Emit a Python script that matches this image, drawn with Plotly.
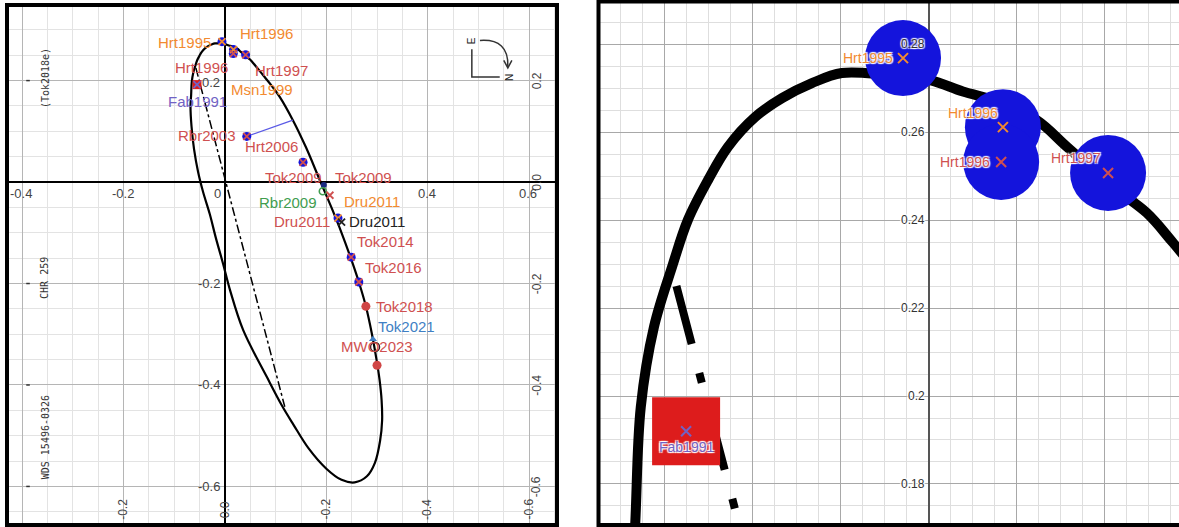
import plotly.graph_objects as go

W, H = 1179, 527

# ---------------- data ----------------
# apparent orbit (relative position, arcsec)
orbit_x = [0.187, 0.21, 0.23, 0.25, 0.265, 0.278, 0.29, 0.299, 0.305, 0.309, 0.31, 0.306,
           0.296, 0.28, 0.256, 0.23, 0.2, 0.165, 0.135, 0.112, 0.083, 0.036, 0.01, -0.004,
           -0.018, -0.03, -0.043, -0.053, -0.061, -0.066, -0.068, -0.0668, -0.0655, -0.0625,
           -0.0584, -0.0548, -0.0502, -0.0457, -0.0395, -0.0334, -0.0266, -0.0198, -0.0100,
           0.0002, 0.0077, 0.0155, 0.0245, 0.0314, 0.0418, 0.0495, 0.0555, 0.075, 0.092,
           0.108, 0.134, 0.16, 0.187]
orbit_y = [0.004, -0.05, -0.10, -0.155, -0.20, -0.245, -0.30, -0.35, -0.39, -0.43, -0.47, -0.51,
           -0.553, -0.58, -0.592, -0.587, -0.565, -0.525, -0.478, -0.44, -0.385, -0.292, -0.213,
           -0.16, -0.11, -0.063, -0.02, 0.02, 0.065, 0.11, 0.15, 0.1702, 0.1975, 0.2157,
           0.2293, 0.2400, 0.2491, 0.2566, 0.2634, 0.2677, 0.2711, 0.2734, 0.2730,
           0.2718, 0.2692, 0.267, 0.2627, 0.2566, 0.2475, 0.2416, 0.2348, 0.211, 0.19,
           0.168, 0.122, 0.068, 0.004]

# line of nodes
nodes_x = [-0.0574, 0.118]
nodes_y = [0.225, -0.443]

# residual of Rbr2003
resid_x = [0.043, 0.134]
resid_y = [0.090, 0.122]

# measurements drawn as blue discs with a cross
disc_names = ["Hrt1995", "Hrt1996", "Hrt1996", "Hrt1997", "Rbr2003", "Hrt2006", "Dru2011", "Tok2014", "Tok2016"]
disc_x = [-0.0059, 0.0168, 0.0164, 0.0407, 0.043, 0.154, 0.223, 0.249, 0.264]
disc_y = [0.2768, 0.2611, 0.2532, 0.2507, 0.090, 0.039, -0.071, -0.148, -0.197]
disc_cross = ["orange", "orange", "red", "red", "red", "red", "orange", "red", "red"]

# further crosses
cross_names = ["Dru2011", "Dru2011", "Fab1991"]
cross_x = [0.230, 0.207, -0.0552]
cross_y = [-0.079, -0.026, 0.192]
cross_col = ["black", "red", "purple"]

# Fab1991 red square
fab_x = [-0.0552]
fab_y = [0.192]

# other single measurements
tok2009_x, tok2009_y = [0.195], [-0.006]
rbr2009_x, rbr2009_y = [0.193], [-0.018]
tok2018_x, tok2018_y = [0.278], [-0.245]
tok2021_x, tok2021_y = [0.292], [-0.310]
mwo2023_x, mwo2023_y = [0.296], [-0.325]
pred_x, pred_y = [0.300], [-0.361]

# labels, left panel
lab_text = ["Hrt1995", "Hrt1996", "Hrt1996", "Hrt1997", "Msn1999", "Fab1991", "Rbr2003", "Hrt2006",
            "Tok2009", "Tok2009", "Rbr2009", "Dru2011", "Dru2011", "Dru2011", "Tok2014", "Tok2016",
            "Tok2018", "Tok2021", "MWO2023"]
lab_x = [-0.080, 0.082, -0.047, 0.111, 0.074, -0.054, -0.036, 0.091,
         0.136, 0.274, 0.124, 0.291, 0.151, 0.300, 0.317, 0.332, 0.354, 0.359, 0.300]
lab_y = [0.276, 0.292, 0.225, 0.219, 0.183, 0.158, 0.091, 0.071,
         0.009, 0.009, -0.041, -0.039, -0.077, -0.077, -0.118, -0.168, -0.245, -0.284, -0.325]
lab_col = ["orange", "orange", "red", "red", "orange", "purple", "red", "red",
           "red", "red", "green", "orange", "red", "black", "red", "red", "red", "blue", "red"]

# labels, right (zoomed) panel
zlab_text = ["Hrt1995", "Hrt1996", "Hrt1996", "Hrt1997", "Fab1991"]
zlab_x = [-0.0139, 0.0100, 0.0082, 0.0334, -0.0552]
zlab_y = [0.2768, 0.2643, 0.2532, 0.2540, 0.1884]
zlab_col = ["orange", "orange", "red", "red", "purple"]

# tick labels
lx_vals = [-0.4, -0.2, 0.0, 0.4, 0.6]
lx_text = ["-0.4", "-0.2", "0", "0.4", "0.6"]
ly_vals = [0.2, -0.2, -0.4, -0.6]
ly_text = ["0.2", "-0.2", "-0.4", "-0.6"]
rcol_vals = [0.2, 0.0, -0.2, -0.4, -0.6]
rcol_text = ["0.2", "0.0", "-0.2", "-0.4", "-0.6"]
brow_vals = [-0.2, 0.0, 0.2, 0.4, 0.6]
brow_text = ["-0.2", "0.0", "-0.2", "-0.4", "-0.6"]
zy_vals = [0.28, 0.26, 0.24, 0.22, 0.20, 0.18]
zy_text = ["0.28", "0.26", "0.24", "0.22", "0.2", "0.18"]

side_text = ["(Tok2018e)", "CHR 259", "WDS 15496-0326"]
side_y = [0.205, -0.189, -0.503]

# ---------------- styles ----------------
COL = {"orange": "#f28a30", "red": "#cf5050", "purple": "#7262c4", "green": "#3f9d4f",
       "blue": "#3f7fc4", "black": "#222222"}
FONT = "Arial, Liberation Sans, sans-serif"
HALO = "1px 1px 1px #fff, -1px -1px 1px #fff, 1px -1px 1px #fff, -1px 1px 1px #fff"

fig = go.Figure()

panels = [
    dict(xa="x", ya="y", orbit_w=2.2, nodes_w=1.5, nodes_dash="dashdot", disc=9, cross=7,
         cross_w=1.8, sq=9, small=7),
    dict(xa="x2", ya="y2", orbit_w=10, nodes_w=8, nodes_dash="60px,30px,10px,30px", disc=76,
         cross=10, cross_w=2, sq=68, small=40),
]

for p in panels:
    xa, ya = p["xa"], p["ya"]
    fig.add_trace(go.Scatter(x=orbit_x, y=orbit_y, mode="lines", line_shape="spline",
                             line=dict(color="black", width=p["orbit_w"]), xaxis=xa, yaxis=ya))
    fig.add_trace(go.Scatter(x=nodes_x, y=nodes_y, mode="lines",
                             line=dict(color="black", width=p["nodes_w"], dash=p["nodes_dash"]),
                             xaxis=xa, yaxis=ya))
    fig.add_trace(go.Scatter(x=resid_x, y=resid_y, mode="lines",
                             line=dict(color="#5a5ae6", width=1.2), xaxis=xa, yaxis=ya))
    fig.add_trace(go.Scatter(x=fab_x, y=fab_y, mode="markers",
                             marker=dict(symbol="square", size=p["sq"], color="#dd1c1c"),
                             xaxis=xa, yaxis=ya))
    fig.add_trace(go.Scatter(x=disc_x, y=disc_y, mode="markers",
                             marker=dict(symbol="circle", size=p["disc"], color="#1414dc"),
                             xaxis=xa, yaxis=ya))
    fig.add_trace(go.Scatter(x=tok2009_x, y=tok2009_y, mode="markers",
                             marker=dict(symbol="circle", size=p["small"] - 1, color="#1a2a80"),
                             xaxis=xa, yaxis=ya))
    fig.add_trace(go.Scatter(x=rbr2009_x, y=rbr2009_y, mode="markers",
                             marker=dict(symbol="circle-open", size=p["small"], color=COL["green"],
                                         line=dict(width=1.6, color=COL["green"])),
                             xaxis=xa, yaxis=ya))
    fig.add_trace(go.Scatter(x=tok2018_x + pred_x, y=tok2018_y + pred_y, mode="markers",
                             marker=dict(symbol="circle", size=p["disc"], color="#d04545"),
                             xaxis=xa, yaxis=ya))
    fig.add_trace(go.Scatter(x=tok2021_x, y=tok2021_y, mode="markers",
                             marker=dict(symbol="triangle-up", size=p["small"], color="#3f7fc4"),
                             xaxis=xa, yaxis=ya))
    fig.add_trace(go.Scatter(x=mwo2023_x, y=mwo2023_y, mode="markers",
                             marker=dict(symbol="circle-open", size=p["disc"], color="#222",
                                         line=dict(width=1.5, color="#222")),
                             xaxis=xa, yaxis=ya))
    cx = disc_x + cross_x
    cy = disc_y + cross_y
    cc = [COL[c] for c in disc_cross + cross_col]
    fig.add_trace(go.Scatter(x=cx, y=cy, mode="markers",
                             marker=dict(symbol="x-thin", size=p["cross"], color=cc,
                                         line=dict(width=p["cross_w"], color=cc)),
                             xaxis=xa, yaxis=ya))

# ---------------- annotations ----------------
ann = []
for t, x, y, c in zip(lab_text, lab_x, lab_y, lab_col):
    ann.append(dict(x=x, y=y, xref="x", yref="y", text=t, showarrow=False,
                    font=dict(family=FONT, size=15, color=COL[c])))
for t, x, y, c in zip(zlab_text, zlab_x, zlab_y, zlab_col):
    ann.append(dict(x=x, y=y, xref="x2", yref="y2", text=t, showarrow=False,
                    font=dict(family=FONT, size=14, color=COL[c], shadow=HALO)))
for v, t in zip(lx_vals, lx_text):
    ann.append(dict(x=v, y=0, xref="x", yref="y", text=t, showarrow=False, yshift=-11,
                    xshift=(-7 if v == 0 else -1),
                    font=dict(family=FONT, size=13, color="#444")))
for v, t in zip(ly_vals, ly_text):
    ann.append(dict(x=0, y=v, xref="x", yref="y", text=t, showarrow=False, xanchor="right",
                    xshift=-3, yshift=(-2 if v > 0 else 0),
                    font=dict(family=FONT, size=13, color="#444")))
for v, t in zip(rcol_vals, rcol_text):
    ann.append(dict(x=0.615, y=v, xref="x", yref="y", text=t, showarrow=False, textangle=-90,
                    font=dict(family=FONT, size=12, color="#444")))
for v, t in zip(brow_vals, brow_text):
    ann.append(dict(x=v, y=-0.645, xref="x", yref="y", text=t, showarrow=False, textangle=-90,
                    font=dict(family=FONT, size=12, color="#444")))
for v, t in zip(zy_vals, zy_text):
    ann.append(dict(x=0, y=v, xref="x2", yref="y2", text=t, showarrow=False, xanchor="right",
                    xshift=-2, font=dict(family=FONT, size=12, color="#333", shadow=HALO)))
for t, y in zip(side_text, side_y):
    ann.append(dict(x=-0.355, y=y, xref="x", yref="y", text=t, showarrow=False, textangle=-90,
                    font=dict(family="Liberation Sans Narrow, DejaVu Sans Mono, sans-serif",
                              size=10, color="#333")))
# compass letters
ann.append(dict(x=0.487, y=0.279, xref="x", yref="y", text="E", showarrow=False, textangle=-90,
                font=dict(family=FONT, size=10, color="#222")))
ann.append(dict(x=0.560, y=0.207, xref="x", yref="y", text="N", showarrow=False, textangle=-90,
                font=dict(family=FONT, size=10, color="#222")))

# ---------------- shapes ----------------
shapes = [
    # compass
    dict(type="path", xref="x", yref="y", path="M 0.487 0.262 L 0.487 0.207 L 0.542 0.207",
         line=dict(color="#333", width=1.5)),
    dict(type="path", xref="x", yref="y", path="M 0.503 0.279 Q 0.560 0.283 0.558 0.228",
         line=dict(color="#333", width=1.5)),
    dict(type="path", xref="x", yref="y", path="M 0.550 0.240 L 0.558 0.225 L 0.566 0.240",
         line=dict(color="#333", width=1.5)),
    # frames
    dict(type="rect", xref="paper", yref="paper", x0=7 / W, x1=557 / W, y0=1 - 525 / H, y1=1 - 5 / H,
         line=dict(color="black", width=4)),
    dict(type="rect", xref="paper", yref="paper", x0=598.5 / W, x1=1.02, y0=1 - 525 / H, y1=1 - 1.5 / H,
         line=dict(color="black", width=4)),
]
# small tick dashes along the left edge of the left panel
for v in ly_vals:
    shapes.append(dict(type="line", xref="x", yref="y", x0=-0.392, x1=-0.385, y0=v, y1=v,
                       line=dict(color="#333", width=1.5)))

axis_common = dict(showticklabels=False, ticks="", showline=False, zeroline=True,
                   zerolinecolor="black", zerolinewidth=1.6, tick0=0)

fig.update_layout(
    width=W, height=H, margin=dict(l=0, r=0, t=0, b=0),
    paper_bgcolor="white", plot_bgcolor="white", showlegend=False, hovermode=False,
    annotations=ann, shapes=shapes,
    xaxis=dict(domain=[8 / W, 557 / W], range=[-0.428, 0.655], dtick=0.2, gridcolor="#b5b5b5",
               minor=dict(dtick=0.05, tick0=0, showgrid=True, gridcolor="#e3e3e3"), **axis_common),
    yaxis=dict(domain=[1 - 525 / H, 1 - 5 / H], range=[-0.676, 0.349], dtick=0.2, gridcolor="#b5b5b5",
               minor=dict(dtick=0.05, tick0=0, showgrid=True, gridcolor="#e3e3e3"), **axis_common),
    xaxis2=dict(domain=[597 / W, 1.0], range=[-0.07545, 0.05682], dtick=0.02, gridcolor="#a8a8a8",
                minor=dict(dtick=0.005, tick0=0, showgrid=True, gridcolor="#dedede"),
                anchor="y2", **{**axis_common, "zerolinecolor": "#555"}),
    yaxis2=dict(domain=[1 - 525 / H, 1 - 3 / H], range=[0.17068, 0.28932], dtick=0.02, gridcolor="#a8a8a8",
                minor=dict(dtick=0.005, tick0=0, showgrid=True, gridcolor="#dedede"),
                anchor="x2", **axis_common),
)

fig.write_html("out.html", config={"displayModeBar": False},
               post_script="document.body.style.margin='0px';document.body.style.overflow='hidden';")
